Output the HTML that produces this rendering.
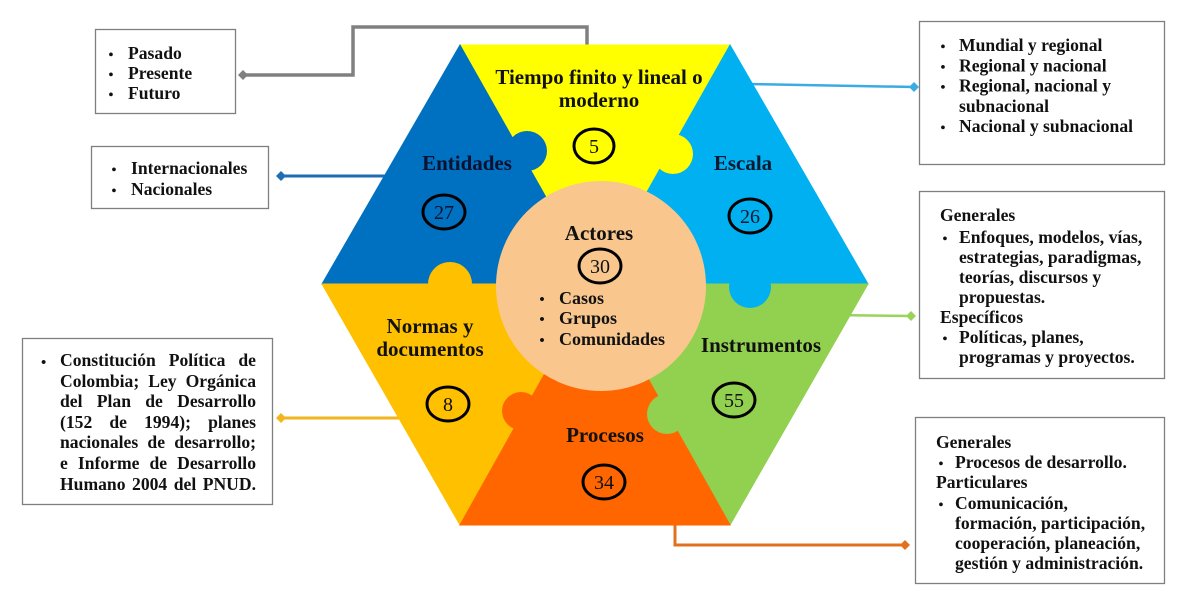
<!DOCTYPE html>
<html>
<head>
<meta charset="utf-8">
<style>
  html, body { margin:0; padding:0; background:#fff; }
  #wrap { position:relative; width:1182px; height:601px; overflow:hidden; background:#fff; }
  svg { position:absolute; left:0; top:0; }
  .t { font-family:"Liberation Serif", serif; font-weight:bold; fill:#111; }
  .n { font-family:"Liberation Serif", serif; font-weight:normal; fill:#111; }
  #cpc { position:absolute; left:60px; top:350px; width:196px; font-family:"Liberation Serif", serif; font-weight:bold; font-size:17.6px; color:#111; }
  #cpc div { height:20.6px; line-height:20.6px; text-align:justify; text-align-last:justify; white-space:nowrap; }
  #cpcb { position:absolute; left:41px; top:353px; font-family:"Liberation Serif", serif; font-weight:bold; font-size:15px; line-height:20.6px; color:#111; }
</style>
</head>
<body>
<div id="wrap">
<svg width="1182" height="601" viewBox="0 0 1182 601" xmlns="http://www.w3.org/2000/svg">
  <!-- connectors -->
  <polyline points="243,75 353,75 353,27 587,27 587,46" fill="none" stroke="#808080" stroke-width="3.5"/>
  <polygon points="238,75 243,70 248,75 243,80" fill="#808080"/>

  <line x1="281" y1="176" x2="392" y2="176" stroke="#1F6EB5" stroke-width="3"/>
  <polygon points="276,176 281,171 286,176 281,181" fill="#1F6EB5"/>

  <line x1="748" y1="84" x2="914" y2="87" stroke="#3AABE3" stroke-width="2.5"/>
  <polygon points="909,87 914,82 919,87 914,92" fill="#3AABE3"/>

  <line x1="830" y1="315" x2="911" y2="316" stroke="#9BD35A" stroke-width="2.5"/>
  <polygon points="906,316 911,311 916,316 911,321" fill="#9BD35A"/>

  <line x1="281" y1="418" x2="402" y2="418" stroke="#F2B51D" stroke-width="3"/>
  <polygon points="276,418 281,413 286,418 281,423" fill="#F2B51D"/>

  <polyline points="675,520 675,545 905,545" fill="none" stroke="#E2711D" stroke-width="3"/>
  <polygon points="900,545 905,540 910,545 905,550" fill="#E2711D"/>

  <!-- hexagon pieces -->
  <polygon points="460,45 730,45 595,284" fill="#FFFF00" stroke="#FFFF00" stroke-width="1"/>
  <polygon points="460,45 322,284 595,284" fill="#0070C0" stroke="#0070C0" stroke-width="1"/>
  <polygon points="730,45 868,284 595,284" fill="#00B0F0" stroke="#00B0F0" stroke-width="1"/>
  <polygon points="322,284 460,525 595,284" fill="#FFC000" stroke="#FFC000" stroke-width="1"/>
  <polygon points="868,284 730,525 595,284" fill="#92D050" stroke="#92D050" stroke-width="1"/>
  <polygon points="460,525 730,525 595,284" fill="#FF6600" stroke="#FF6600" stroke-width="1"/>

  <!-- puzzle tabs -->
  <circle cx="527" cy="151" r="20" fill="#0070C0"/>
  <circle cx="673" cy="154" r="20" fill="#FFFF00"/>
  <circle cx="450" cy="284" r="22" fill="#FFC000"/>
  <circle cx="750" cy="287" r="21" fill="#00B0F0"/>
  <circle cx="521" cy="411" r="19" fill="#FF6600"/>
  <circle cx="667" cy="414" r="20" fill="#92D050"/>

  <!-- center circle -->
  <circle cx="601" cy="286" r="105" fill="#F9C78E"/>

  <!-- hex labels -->
  <text class="t" x="599" y="84" font-size="21" text-anchor="middle">Tiempo finito y lineal o</text>
  <text class="t" x="599" y="107" font-size="21" text-anchor="middle">moderno</text>
  <text class="t" x="467" y="170" font-size="21" text-anchor="middle" style="fill:#0b1230">Entidades</text>
  <text class="t" x="743" y="170" font-size="21" text-anchor="middle" style="fill:#0b1a30">Escala</text>
  <text class="t" x="599" y="240" font-size="21" text-anchor="middle">Actores</text>
  <text class="t" x="430" y="333" font-size="21" text-anchor="middle">Normas y</text>
  <text class="t" x="430" y="356" font-size="21" text-anchor="middle">documentos</text>
  <text class="t" x="761" y="352" font-size="21" text-anchor="middle">Instrumentos</text>
  <text class="t" x="605" y="442" font-size="21" text-anchor="middle">Procesos</text>

  <!-- center bullets -->
  <text class="t" x="542" y="304" font-size="15" text-anchor="middle">•</text>
  <text class="t" x="542" y="324" font-size="15" text-anchor="middle">•</text>
  <text class="t" x="542" y="345" font-size="15" text-anchor="middle">•</text>
  <text class="t" x="559" y="304" font-size="18">Casos</text>
  <text class="t" x="559" y="324" font-size="18">Grupos</text>
  <text class="t" x="559" y="345" font-size="18">Comunidades</text>

  <!-- number ellipses -->
  <g fill="none" stroke="#000" stroke-width="3">
    <ellipse cx="594" cy="146" rx="20" ry="17"/>
    <ellipse cx="444" cy="212" rx="21" ry="17"/>
    <ellipse cx="750" cy="216" rx="21" ry="17"/>
    <ellipse cx="600" cy="266" rx="21" ry="17"/>
    <ellipse cx="448" cy="404" rx="21" ry="17"/>
    <ellipse cx="734" cy="400" rx="21" ry="17"/>
    <ellipse cx="604" cy="482" rx="21" ry="17"/>
  </g>
  <text class="n" x="594" y="153" font-size="20" text-anchor="middle">5</text>
  <text class="n" x="444" y="219" font-size="20" text-anchor="middle" style="fill:#0b1230">27</text>
  <text class="n" x="750" y="223" font-size="20" text-anchor="middle" style="fill:#0b1a30">26</text>
  <text class="n" x="600" y="273" font-size="20" text-anchor="middle">30</text>
  <text class="n" x="448" y="411" font-size="20" text-anchor="middle">8</text>
  <text class="n" x="734" y="407" font-size="20" text-anchor="middle">55</text>
  <text class="n" x="604" y="489" font-size="20" text-anchor="middle">34</text>

  <!-- boxes -->
  <g fill="#fff" stroke="#7F7F7F" stroke-width="1.3">
    <rect x="95.5" y="29.5" width="140" height="84"/>
    <rect x="91.5" y="146.5" width="177" height="62"/>
    <rect x="919.5" y="21.5" width="245" height="143"/>
    <rect x="919.5" y="191.5" width="245" height="187"/>
    <rect x="915.5" y="417.5" width="249" height="166"/>
    <rect x="22.5" y="338.5" width="250" height="166"/>
  </g>

  <!-- box 1 -->
  <g class="t" font-size="17.6">
    <text x="111" y="59" font-size="14" text-anchor="middle">•</text>
    <text x="111" y="79" font-size="14" text-anchor="middle">•</text>
    <text x="111" y="99" font-size="14" text-anchor="middle">•</text>
    <text x="128" y="59">Pasado</text>
    <text x="128" y="79">Presente</text>
    <text x="128" y="99">Futuro</text>
  </g>

  <!-- box 2 -->
  <g class="t" font-size="17.6">
    <text x="114" y="174" font-size="14" text-anchor="middle">•</text>
    <text x="114" y="195" font-size="14" text-anchor="middle">•</text>
    <text x="131" y="174">Internacionales</text>
    <text x="131" y="195">Nacionales</text>
  </g>

  <!-- box 3 -->
  <g class="t" font-size="17.6">
    <text x="943" y="51" font-size="14" text-anchor="middle">•</text>
    <text x="943" y="71.3" font-size="14" text-anchor="middle">•</text>
    <text x="943" y="91.6" font-size="14" text-anchor="middle">•</text>
    <text x="943" y="132.2" font-size="14" text-anchor="middle">•</text>
    <text x="959" y="51">Mundial y regional</text>
    <text x="959" y="71.3">Regional y nacional</text>
    <text x="959" y="91.6">Regional, nacional y</text>
    <text x="959" y="111.9">subnacional</text>
    <text x="959" y="132.2">Nacional y subnacional</text>
  </g>

  <!-- box 4 -->
  <g class="t" font-size="17.6">
    <text x="940" y="221">Generales</text>
    <text x="945" y="243" font-size="14" text-anchor="middle">•</text>
    <text x="959" y="243">Enfoques, modelos, vías,</text>
    <text x="959" y="263">estrategias, paradigmas,</text>
    <text x="959" y="283">teorías, discursos y</text>
    <text x="959" y="303">propuestas.</text>
    <text x="940" y="323">Específicos</text>
    <text x="945" y="343" font-size="14" text-anchor="middle">•</text>
    <text x="959" y="343">Políticas, planes,</text>
    <text x="959" y="363">programas y proyectos.</text>
  </g>

  <!-- box 5 -->
  <g class="t" font-size="17.6">
    <text x="936" y="448">Generales</text>
    <text x="941" y="468" font-size="14" text-anchor="middle">•</text>
    <text x="955" y="468">Procesos de desarrollo.</text>
    <text x="936" y="488">Particulares</text>
    <text x="941" y="509" font-size="14" text-anchor="middle">•</text>
    <text x="955" y="509">Comunicación,</text>
    <text x="955" y="529">formación, participación,</text>
    <text x="955" y="549">cooperación, planeación,</text>
    <text x="955" y="569">gestión y administración.</text>
  </g>
</svg>

<div id="cpcb">•</div>
<div id="cpc">
  <div>Constitución Política de</div>
  <div>Colombia; Ley Orgánica</div>
  <div>del Plan de Desarrollo</div>
  <div>(152 de 1994); planes</div>
  <div>nacionales de desarrollo;</div>
  <div>e Informe de Desarrollo</div>
  <div>Humano 2004 del PNUD.</div>
</div>
</div>
</body>
</html>
